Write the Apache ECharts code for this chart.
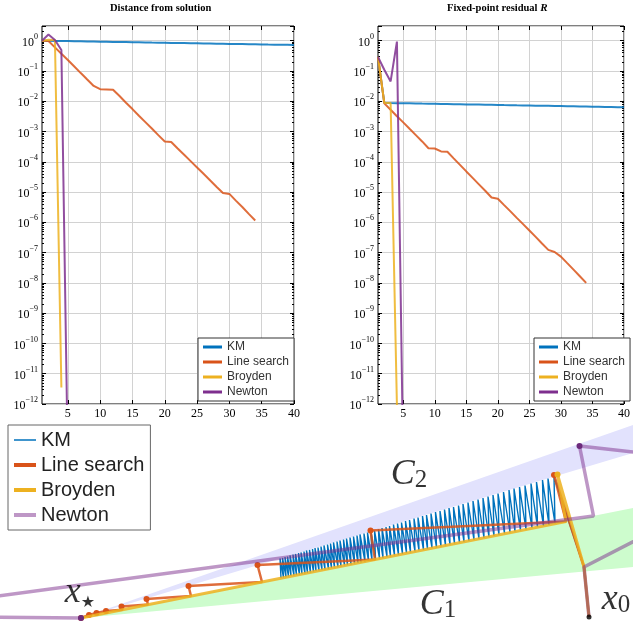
<!DOCTYPE html>
<html>
<head>
<meta charset="utf-8">
<script src="https://cdn.jsdelivr.net/npm/echarts@6/dist/echarts.min.js"></script>
<style>
  html, body { margin: 0; padding: 0; background: #fff; }
  #main { width: 633px; height: 628px; }
</style>
</head>
<body>
<div id="main"></div>
<script>
// ---------- convergence histories (iteration k = 1, 2, ...) ----------
const methods = ['KM', 'Line search', 'Broyden', 'Newton'];
const methodColors = ['#0072BD', '#D95319', '#EDB120', '#7E2F8E'];
const xTicks = [5, 10, 15, 20, 25, 30, 35, 40];

// distance from the solution
const distKM = [1.000, 0.992, 0.983, 0.975, 0.967, 0.959, 0.951, 0.943, 0.935, 0.927,
                0.919, 0.911, 0.904, 0.896, 0.888, 0.881, 0.874, 0.866, 0.859, 0.852,
                0.845, 0.838, 0.831, 0.824, 0.817, 0.810, 0.803, 0.796, 0.790, 0.783,
                0.776, 0.770, 0.763, 0.757, 0.751, 0.744, 0.738, 0.732, 0.726, 0.720];
const distLS = [1.0, 0.98, 0.60, 0.37, 0.23, 0.14, 0.085, 0.052, 0.032, 0.025,
                0.0245, 0.024, 0.0148, 0.0089, 0.0055, 0.0033, 0.00204, 0.00126, 7.6e-4, 4.7e-4,
                4.5e-4, 2.75e-4, 1.7e-4, 1.05e-4, 6.5e-5, 4.0e-5, 2.45e-5, 1.5e-5, 9.3e-6, 8.7e-6,
                5.2e-6, 3.2e-6, 1.9e-6, 1.15e-6];
const distBroyden = [1.0, 1.08, 1.05, 3.5e-12];
const distNewton = [1.0, 1.6, 1.05, 0.49, 1e-14];

// fixed-point residual R
const resKM = [0.29, 0.00880, 0.00872, 0.00865, 0.00857, 0.00850, 0.00843, 0.00835, 0.00828, 0.00821,
               0.00814, 0.00807, 0.00800, 0.00793, 0.00786, 0.00779, 0.00773, 0.00766, 0.00759, 0.00753,
               0.00746, 0.00740, 0.00733, 0.00727, 0.00721, 0.00715, 0.00708, 0.00702, 0.00696, 0.00690,
               0.00684, 0.00678, 0.00672, 0.00667, 0.00661, 0.00655, 0.00649, 0.00644, 0.00638, 0.00633];
const resLS = [0.29, 0.0085, 0.0052, 0.0032, 0.0020, 0.00123, 7.6e-4, 4.7e-4, 2.8e-4, 2.75e-4,
               2.2e-4, 2.15e-4, 1.3e-4, 7.9e-5, 4.8e-5, 2.95e-5, 1.8e-5, 1.1e-5, 6.6e-6, 6.0e-6,
               3.7e-6, 2.3e-6, 1.4e-6, 8.7e-7, 5.4e-7, 3.3e-7, 2.0e-7, 1.23e-7, 1.05e-7, 7.4e-8,
               4.5e-8, 2.75e-8, 1.66e-8, 1.0e-8];
const resBroyden = [0.29, 0.0088, 0.0088, 9e-13];
const resNewton = [0.29, 0.11, 0.045, 0.93, 1e-14];

// ---------- 2-D illustration (x* at the origin) ----------
// cones C1 and C2 (apex at x*)
const c1X = [0, 11.04, 11.04];
const c1Y = [0, 2.20, 1.02];
const c2X = [0, 11.04, 11.04];
const c2Y = [0, 3.86, 3.30];

// KM iterates: start, then alternating points on the two cone boundaries
const kmStartX = [10.16, 10.06];
const kmStartY = [0.02, 1.02];
const kmTopX = [9.46, 9.34, 9.23, 9.11, 9.00, 8.88, 8.77, 8.66, 8.56, 8.45,
                8.34, 8.24, 8.14, 8.04, 7.94, 7.84, 7.74, 7.64, 7.55, 7.45,
                7.36, 7.27, 7.18, 7.09, 7.00, 6.91, 6.83, 6.74, 6.66, 6.57,
                6.49, 6.41, 6.33, 6.25, 6.17, 6.10, 6.02, 5.95, 5.87, 5.80,
                5.73, 5.66, 5.58, 5.52, 5.45, 5.38, 5.31, 5.25, 5.18, 5.12,
                5.05, 4.99, 4.93, 4.86, 4.80, 4.74, 4.68, 4.63, 4.57, 4.51,
                4.46, 4.40, 4.35, 4.29, 4.24, 4.18, 4.13, 4.08, 4.03, 3.98];
const kmTopY = [2.82, 2.79, 2.76, 2.72, 2.69, 2.65, 2.62, 2.59, 2.56, 2.52,
                2.49, 2.46, 2.43, 2.40, 2.37, 2.34, 2.31, 2.28, 2.25, 2.22,
                2.20, 2.17, 2.14, 2.12, 2.09, 2.06, 2.04, 2.01, 1.99, 1.96,
                1.94, 1.91, 1.89, 1.87, 1.84, 1.82, 1.80, 1.78, 1.75, 1.73,
                1.71, 1.69, 1.67, 1.65, 1.63, 1.61, 1.59, 1.57, 1.55, 1.53,
                1.51, 1.49, 1.47, 1.45, 1.43, 1.41, 1.40, 1.38, 1.36, 1.35,
                1.33, 1.31, 1.30, 1.28, 1.27, 1.25, 1.23, 1.22, 1.20, 1.19];
const kmBotX = [9.48, 9.36, 9.25, 9.13, 9.02, 8.90, 8.79, 8.68, 8.58, 8.47,
                8.36, 8.26, 8.16, 8.06, 7.96, 7.86, 7.76, 7.66, 7.57, 7.47,
                7.38, 7.29, 7.20, 7.11, 7.02, 6.93, 6.85, 6.76, 6.68, 6.59,
                6.51, 6.43, 6.35, 6.27, 6.19, 6.12, 6.04, 5.97, 5.89, 5.82,
                5.75, 5.68, 5.60, 5.54, 5.47, 5.40, 5.33, 5.27, 5.20, 5.14,
                5.07, 5.01, 4.95, 4.88, 4.82, 4.76, 4.70, 4.65, 4.59, 4.53,
                4.48, 4.42, 4.37, 4.31, 4.26, 4.20, 4.15, 4.10, 4.05, 4.00];
const kmBotY = [1.89, 1.86, 1.84, 1.82, 1.80, 1.77, 1.75, 1.73, 1.71, 1.69,
                1.66, 1.64, 1.62, 1.60, 1.58, 1.56, 1.54, 1.52, 1.51, 1.49,
                1.47, 1.45, 1.43, 1.41, 1.40, 1.38, 1.36, 1.35, 1.33, 1.31,
                1.30, 1.28, 1.26, 1.25, 1.23, 1.22, 1.20, 1.19, 1.17, 1.16,
                1.14, 1.13, 1.11, 1.10, 1.09, 1.07, 1.06, 1.05, 1.03, 1.02,
                1.01, 1.00, 0.98, 0.97, 0.96, 0.95, 0.94, 0.93, 0.91, 0.90,
                0.89, 0.88, 0.87, 0.86, 0.85, 0.84, 0.83, 0.82, 0.81, 0.80];

// line search path; flag = 1 marks an accepted iterate
const lsX = [10.16, 10.06, 9.46, 9.70, 5.79, 5.88, 3.53, 3.62, 2.15, 2.20, 1.31, 1.34, 0.81, 0.83, 0.50, 0.51, 0.31, 0.32, 0.16, 0.165, 0];
const lsY = [0.02, 1.02, 2.86, 1.93, 1.75, 1.17, 1.06, 0.72, 0.64, 0.44, 0.38, 0.27, 0.23, 0.165, 0.14, 0.10, 0.10, 0.064, 0.06, 0.033, 0];
const lsIterate = [0, 0, 1, 0, 1, 0, 1, 0, 1, 0, 1, 0, 1, 0, 1, 0, 1, 0, 1, 0, 1];

const broydenX = [10.16, 10.06, 9.53, 9.70, 0];
const broydenY = [0.02, 1.02, 2.87, 1.93, 0];
const broydenIterate = [0, 0, 1, 0, 0];

const newtonX = [10.16, 10.06, 13.9, 9.97, 10.25, -4.62, 0];
const newtonY = [0.02, 1.02, 3.0, 3.44, 2.04, 0.04, 0];
const newtonIterate = [0, 0, 0, 1, 0, 0, 1];

const startX = [10.16];
const startY = [0.02];

const mathLabelText = ['{m|C}{n|2}', '{m|C}{n|1}', '{m|x}{st|\u2605}', '{m|x}{n|0}'];
const mathLabelX = [6.56, 7.14, -0.02, 10.70];
const mathLabelY = [2.90, 0.30, 0.54, 0.40];

// ---------- helpers ----------
const serif = '"Liberation Serif", "DejaVu Serif", serif';
const sans = '"Liberation Sans", Arial, sans-serif';
const gridGray = '#d2d2d2';

const toPairs = arr => arr.map((v, i) => [i + 1, v]);
const zipPts = (xs, ys) => xs.map((x, i) => [x, ys[i]]);
const flagged = (xs, ys, flags) => xs.map((x, i) => ({ value: [x, ys[i]], symbol: flags[i] ? 'circle' : 'none' }));

function expLabel(v) {
  if (v > 1.5) return '';
  const e = Math.round(Math.log10(v));
  return '{b|10}{s|' + (e < 0 ? '\u2212' + (-e) : String(e)) + '}';
}

function xAxisPair(gridIndex) {
  const common = {
    type: 'value', gridIndex, min: 1, max: 40,
    axisLine: { show: false },
    axisTick: { show: true, inside: true, length: 4, customValues: xTicks, lineStyle: { color: '#000' } }
  };
  return [
    Object.assign({}, common, {
      position: 'bottom',
      axisLabel: { customValues: xTicks, fontFamily: serif, fontSize: 12, color: '#000', margin: 4 },
      splitLine: { show: true, lineStyle: { color: gridGray, width: 1 } }
    }),
    Object.assign({}, common, {
      position: 'top',
      axisLabel: { show: false },
      splitLine: { show: false }
    })
  ];
}

function yAxisPair(gridIndex) {
  const common = {
    type: 'log', logBase: 10, gridIndex, min: 1e-12, max: 3.05, interval: 1,
    axisLine: { show: false },
    axisTick: { show: true, inside: true, length: 4, lineStyle: { color: '#000' } },
    minorTick: { show: true, splitNumber: 9, length: 2, lineStyle: { color: '#000' } }
  };
  return [
    Object.assign({}, common, {
      position: 'left',
      axisLabel: {
        fontFamily: serif, color: '#000', margin: 4,
        formatter: expLabel,
        rich: {
          b: { fontFamily: serif, fontSize: 12, color: '#000', lineHeight: 16, verticalAlign: 'bottom' },
          s: { fontFamily: serif, fontSize: 8, color: '#000', lineHeight: 10, verticalAlign: 'top' }
        }
      },
      splitLine: { show: true, lineStyle: { color: gridGray, width: 1 } }
    }),
    Object.assign({}, common, {
      position: 'right',
      axisLabel: { show: false },
      splitLine: { show: false }
    })
  ];
}

function historySeries(name, color, data, xAxisIndex, yAxisIndex) {
  return {
    type: 'line', name, xAxisIndex, yAxisIndex,
    data: toPairs(data),
    symbol: 'none', showSymbol: false, clip: true,
    lineStyle: { width: 2, color, opacity: 0.85 },
    itemStyle: { color },
    emphasis: { disabled: true }
  };
}

const topLegend = left => ({
  data: methods, orient: 'vertical', left, top: 338,
  icon: 'rect', itemWidth: 19, itemHeight: 3, itemGap: 3, itemTextGap: 4,
  padding: [3, 5, 3, 5],
  backgroundColor: '#fff', borderColor: '#333', borderWidth: 1, borderRadius: 0,
  selectedMode: false,
  textStyle: { fontFamily: sans, fontSize: 12, color: '#333' }
});

// bottom-panel series use names with a trailing space so their legend reads
// the thin/thick styles of the illustration
const panelNames = methods.map(m => m + ' ');
const panelColors = ['#0072BD', 'rgba(217,83,25,0.85)', 'rgba(237,177,32,0.85)', 'rgba(126,47,142,0.5)'];
const thinIcon = 'path://M0 0M22 10M0 4.25L22 4.25L22 5.75L0 5.75Z';
const thickIcon = 'path://M0 0M22 10M0 3L22 3L22 7L0 7Z';

const kmPath = zipPts(kmStartX, kmStartY);
kmTopX.forEach((x, i) => {
  kmPath.push([x, kmTopY[i]]);
  kmPath.push([kmBotX[i], kmBotY[i]]);
});

function conePolygon(xs, ys, fill) {
  return {
    type: 'custom', name: 'cone', xAxisIndex: 4, yAxisIndex: 4, clip: true, silent: true, z: 1,
    data: [[0, 0]],
    renderItem: (params, api) => ({
      type: 'polygon',
      shape: { points: xs.map((x, i) => api.coord([x, ys[i]])) },
      style: { fill }
    })
  };
}

const xAxes = [].concat(xAxisPair(0), xAxisPair(1), [{
  type: 'value', gridIndex: 2, min: -1.62, max: 11.04, show: false
}]);
const yAxes = [].concat(yAxisPair(0), yAxisPair(1), [{
  type: 'value', gridIndex: 2, min: -0.2, max: 3.96, show: false
}]);

const series = [];
[distKM, distLS, distBroyden, distNewton].forEach((d, i) =>
  series.push(historySeries(methods[i], methodColors[i], d, 0, 0)));
[resKM, resLS, resBroyden, resNewton].forEach((d, i) =>
  series.push(historySeries(methods[i], methodColors[i], d, 2, 2)));

series.push(conePolygon(c2X, c2Y, '#e2e2fd'));
series.push(conePolygon(c1X, c1Y, '#cdfccd'));

series.push({
  type: 'line', name: panelNames[0], xAxisIndex: 4, yAxisIndex: 4, data: kmPath,
  symbol: 'none', z: 3, lineStyle: { width: 1.4, color: panelColors[0] }, itemStyle: { color: panelColors[0] }
});
series.push({
  type: 'line', name: panelNames[1], xAxisIndex: 4, yAxisIndex: 4,
  data: flagged(lsX, lsY, lsIterate), showSymbol: true, symbolSize: 6, z: 4,
  lineStyle: { width: 2.5, color: panelColors[1] }, itemStyle: { color: '#D95319' }
});
series.push({
  type: 'line', name: panelNames[2], xAxisIndex: 4, yAxisIndex: 4,
  data: flagged(broydenX, broydenY, broydenIterate), showSymbol: true, symbolSize: 6, z: 5,
  lineStyle: { width: 3, color: panelColors[2] }, itemStyle: { color: '#EDB120' }
});
series.push({
  type: 'line', name: panelNames[3], xAxisIndex: 4, yAxisIndex: 4,
  data: flagged(newtonX, newtonY, newtonIterate), showSymbol: true, symbolSize: 6, z: 6,
  lineStyle: { width: 3.5, color: panelColors[3] }, itemStyle: { color: '#6c2a7c' }
});
series.push({
  type: 'scatter', name: 'start', xAxisIndex: 4, yAxisIndex: 4,
  data: zipPts(startX, startY), symbolSize: 5, z: 7, itemStyle: { color: '#000' }
});
series.push({
  type: 'scatter', name: 'labels', xAxisIndex: 4, yAxisIndex: 4, silent: true,
  data: zipPts(mathLabelX, mathLabelY), symbolSize: 1, z: 8,
  itemStyle: { color: 'rgba(0,0,0,0)' },
  label: {
    show: true, position: 'inside',
    formatter: p => mathLabelText[p.dataIndex],
    rich: {
      m: { fontFamily: serif, fontStyle: 'italic', fontSize: 36, color: '#000', lineHeight: 40, verticalAlign: 'bottom' },
      n: { fontFamily: serif, fontSize: 25, color: '#000', lineHeight: 20, verticalAlign: 'bottom' },
      st: { fontFamily: '"DejaVu Sans", sans-serif', fontSize: 16, color: '#000', lineHeight: 12, verticalAlign: 'bottom' }
    }
  }
});

const option = {
  animation: false,
  backgroundColor: '#fff',
  title: [
    { text: 'Distance from solution', left: 110, top: 3, padding: 0,
      textStyle: { fontFamily: serif, fontWeight: 'bold', fontSize: 10.5, color: '#000' } },
    { text: '{b|Fixed-point residual }{i|R}', left: 447, top: 3, padding: 0,
      textStyle: { rich: {
        b: { fontFamily: serif, fontWeight: 'bold', fontSize: 10.5, color: '#000' },
        i: { fontFamily: serif, fontStyle: 'italic', fontSize: 11, color: '#000' }
      } } }
  ],
  grid: [
    { left: 42, top: 26, width: 252, height: 378, show: true, borderColor: '#000', borderWidth: 1, backgroundColor: 'rgba(0,0,0,0)' },
    { left: 378, top: 26, width: 250, height: 378, show: true, borderColor: '#000', borderWidth: 1, backgroundColor: 'rgba(0,0,0,0)' },
    { left: 0, top: 420, width: 633, height: 208, show: false }
  ],
  xAxis: xAxes,
  yAxis: yAxes,
  legend: [
    topLegend(198),
    topLegend(534),
    {
      data: [
        { name: panelNames[0], icon: thinIcon },
        { name: panelNames[1], icon: thickIcon },
        { name: panelNames[2], icon: thickIcon },
        { name: panelNames[3], icon: thickIcon, itemStyle: { color: panelColors[3] } }
      ],
      orient: 'vertical', left: 8, top: 425,
      itemWidth: 22, itemHeight: 10, itemGap: 5, itemTextGap: 7,
      padding: [5, 6, 5, 6],
      formatter: n => n.trim(),
      backgroundColor: '#fff', borderColor: '#666', borderWidth: 1,
      selectedMode: false,
      textStyle: { fontFamily: sans, fontSize: 20, color: '#222' }
    }
  ],
  series
};

const chart = echarts.init(document.getElementById('main'), null, { renderer: 'canvas' });
chart.setOption(option);
</script>
</body>
</html>
